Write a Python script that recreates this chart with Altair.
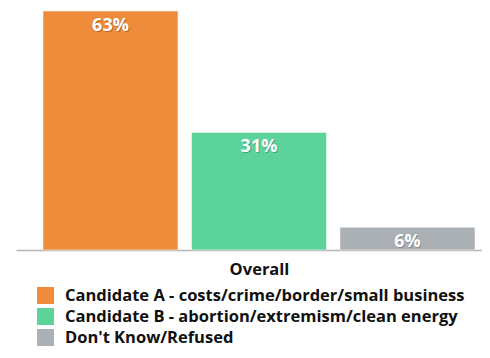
import altair as alt
import pandas as pd

series = [
    "Candidate A - costs/crime/border/small business",
    "Candidate B - abortion/extremism/clean energy",
    "Don't Know/Refused",
]
values = [63, 31, 6]
labels = ["63%", "31%", "6%"]
colors = ["#EF8C3B", "#5CD39B", "#ABB0B5"]
group = "Overall"

df = pd.DataFrame({"series": series, "value": values, "label": labels})

FONT = "Open Sans"

x_enc = alt.X(
    "series:N",
    sort=series,
    scale=alt.Scale(paddingInner=0.091, paddingOuter=0.1145, align=0.794),
    axis=alt.Axis(
        labels=False,
        ticks=False,
        domainColor="#B5B5B5",
        domainWidth=1.5,
        title=group,
        titleFont=FONT,
        titleFontSize=16.5,
        titleFontWeight="bold",
        titleColor="#111111",
        titlePadding=11,
        titleX=243,
        titleAlign="center",
    ),
)
y_enc = alt.Y("value:Q", scale=alt.Scale(domain=[0, 63], nice=False), axis=None)

base = alt.Chart(df).encode(x=x_enc, y=y_enc)

bars = base.mark_bar(stroke="white", strokeWidth=0.5).encode(
    color=alt.Color(
        "series:N",
        sort=series,
        scale=alt.Scale(domain=series, range=colors),
        legend=alt.Legend(
            orient="none",
            legendX=21,
            legendY=276,
            title=None,
            symbolType="square",
            symbolSize=289,
            symbolStrokeWidth=0,
            symbolOpacity=1,
            labelFont=FONT,
            labelFontSize=16.5,
            labelFontWeight="bold",
            labelColor="#111111",
            labelOffset=11,
            rowPadding=4,
            labelLimit=0,
        ),
    )
)

shadow = base.mark_text(
    dy=16, dx=1, baseline="middle", color="black", opacity=0.22,
    font=FONT, fontSize=18, fontWeight="bold",
).encode(text="label:N")

text = base.mark_text(
    dy=15, baseline="middle", color="white",
    font=FONT, fontSize=18, fontWeight="bold",
).encode(text="label:N")

chart = (
    alt.layer(bars, shadow, text)
    .properties(
        width=466,
        height=239,
        padding={"left": 8, "top": 2, "right": 0, "bottom": 0},
    )
    .configure_view(stroke=None)
)

chart.save("out.html", embed_options={"renderer": "svg", "actions": False})
